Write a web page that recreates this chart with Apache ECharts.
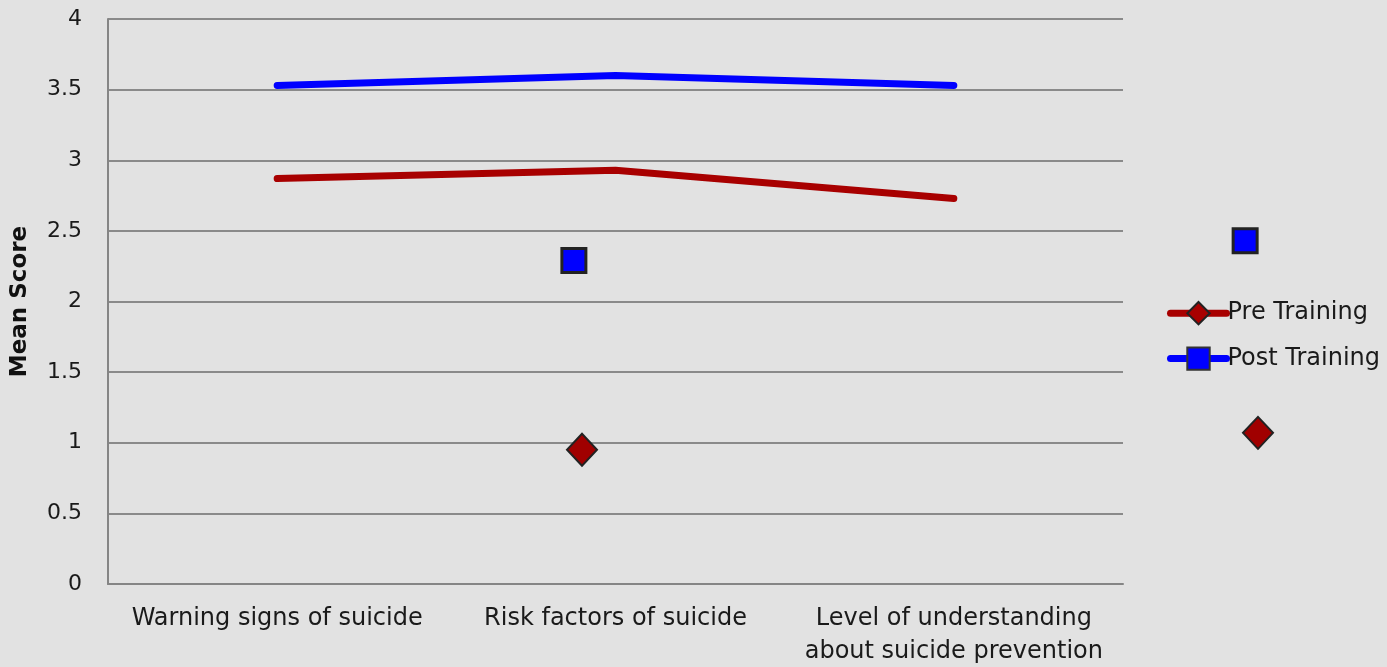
<!DOCTYPE html>
<html>
<head>
<meta charset="utf-8">
<script src="https://cdn.jsdelivr.net/npm/echarts@6/dist/echarts.min.js"></script>
<style>
html,body{margin:0;padding:0;background:#e2e2e2;}
#chart{width:1387px;height:667px;}
</style>
</head>
<body>
<div id="chart"></div>
<script>
const categories = ['Warning signs of suicide', 'Risk factors of suicide', 'Level of understanding\nabout suicide prevention'];
const preTraining = [2.87, 2.93, 2.73];
const postTraining = [3.53, 3.60, 3.53];
// stray markers seen in the reference (x in category-position units, y in score)
const strayPost = [[1.377, 2.29], [3.361, 2.43]];
const strayPre = [[1.401, 0.95], [3.399, 1.07]];

const FONT = 'DejaVu Sans';
const chart = echarts.init(document.getElementById('chart'));
chart.setOption({
  backgroundColor: '#e2e2e2',
  animation: false,
  textStyle: {fontFamily: FONT},
  grid: {left: 108, right: 264, top: 19, bottom: 83, outerBoundsMode: 'none', containLabel: false},
  legend: {
    orient: 'vertical', left: 1162, top: 296, itemGap: 21,
    itemWidth: 56, itemHeight: 28,
    lineStyle: {width: 7, cap: 'round'},
    textStyle: {fontFamily: FONT, fontSize: 24, color: '#1a1a1a', padding: [0, 0, 0, -4]},
    data: ['Pre Training', 'Post Training']
  },
  xAxis: [{
    type: 'category', data: categories, boundaryGap: true,
    axisLine: {lineStyle: {color: '#858585', width: 2}},
    axisTick: {show: false},
    axisLabel: {fontFamily: FONT, fontSize: 24, color: '#1a1a1a', margin: 18, lineHeight: 33, interval: 0}
  }, {
    type: 'value', min: 0, max: 3, show: false
  }],
  yAxis: {
    type: 'value', min: 0, max: 4, interval: 0.5,
    name: 'Mean Score', nameLocation: 'middle', nameGap: 76,
    nameTextStyle: {fontFamily: FONT, fontSize: 23, fontWeight: 'bold', color: '#111'},
    axisLine: {show: true, lineStyle: {color: '#858585', width: 2}},
    axisTick: {show: false},
    splitLine: {lineStyle: {color: '#8a8a8a', width: 2}},
    axisLabel: {fontFamily: FONT, fontSize: 22, color: '#1a1a1a', margin: 26}
  },
  series: [{
    name: 'Pre Training', type: 'line', data: preTraining,
    symbol: 'diamond', symbolSize: 22, showSymbol: false,
    itemStyle: {color: '#a80000', borderColor: '#222', borderWidth: 2},
    lineStyle: {color: '#a80000', width: 7, cap: 'round', join: 'round'}
  }, {
    name: 'Post Training', type: 'line', data: postTraining,
    symbol: 'rect', symbolSize: 20, showSymbol: false,
    itemStyle: {color: '#0000ff', borderColor: '#333', borderWidth: 2},
    lineStyle: {color: '#0000ff', width: 7, cap: 'round', join: 'round'}
  }, {
    name: 'strayPost', type: 'scatter', xAxisIndex: 1, data: strayPost, clip: false,
    symbol: 'rect', symbolSize: 24,
    itemStyle: {color: '#0000ff', borderColor: '#222', borderWidth: 3, opacity: 1}
  }, {
    name: 'strayPre', type: 'scatter', xAxisIndex: 1, data: strayPre, clip: false,
    symbol: 'diamond', symbolSize: [30, 32],
    itemStyle: {color: '#a00000', borderColor: '#222', borderWidth: 2, opacity: 1}
  }]
});
</script>
</body>
</html>
